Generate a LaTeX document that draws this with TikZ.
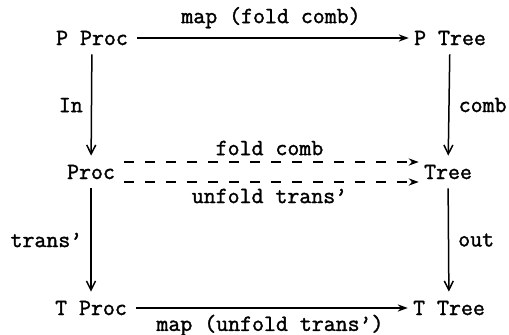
\documentclass[tikz,border=0pt]{standalone}
\usepackage{fontspec}
\usetikzlibrary{arrows.meta}
\newfontfamily\diagtt{Latin Modern Mono}[FakeBold=1.5]
\begin{document}
\begin{tikzpicture}[x=0.5pt,y=-0.5pt,
  font=\fontsize{11.6}{13}\selectfont\diagtt,
  obj/.style={inner xsep=2.5pt,inner ysep=4.5pt,text height=7pt,text depth=0pt},
  lbl/.style={inner sep=0pt},
  harr/.style={line width=0.75pt,-{Stealth[length=5pt,width=3.6pt,inset=1.6pt]},shorten <=2pt},
  varr/.style={line width=0.75pt,-{Straight Barb[length=4.5pt,width=4.5pt]}},
  dsh/.style={dash pattern=on 5pt off 5.5pt}]
\useasboundingbox (0,0) rectangle (509,334);
% objects of the square
\node[obj] (pp) at (92,38)  {P Proc};
\node[obj] (pt) at (450,38) {P Tree};
\node[obj] (pr) at (91,172) {Proc};
\node[obj] (tr) at (448,172) {Tree};
\node[obj] (tp) at (91,308) {T Proc};
\node[obj] (tt) at (449,308) {T Tree};
% horizontal maps
\draw[harr] (pp) -- node[lbl,above=4.5pt] {map (fold comb)} (pt);
\draw[harr] (tp) -- node[lbl,below=3pt] {map (unfold trans’)} (tt);
\draw[harr,dsh] ([yshift=5pt]pr.east) -- node[lbl,above=3pt] {fold comb} ([yshift=5pt]tr.west);
\draw[harr,dsh] ([yshift=-5pt]pr.east) -- node[lbl,below=3pt] {unfold trans’} ([yshift=-5pt]tr.west);
% vertical maps
\draw[varr] (pp) -- node[lbl,left=4pt] {In} (pr);
\draw[varr] (pr) -- node[lbl,left=4pt] {trans’} (tp);
\draw[varr] (pt) -- node[lbl,right=4.5pt] {comb} (tr);
\draw[varr] (tr) -- node[lbl,right=4.5pt] {out} (tt);
\end{tikzpicture}
\end{document}
